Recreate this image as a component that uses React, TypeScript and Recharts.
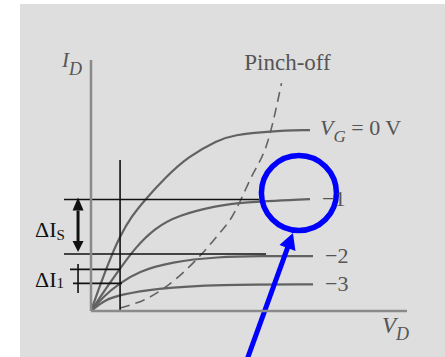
import { LineChart, Line, XAxis, YAxis, ReferenceLine, ReferenceDot, Label } from "recharts";

// drain characteristics, [V_D (V), I_D (mA)]
const vg0Curve = [[0, 0], [0.65, 1.17], [1.39, 2.35], [1.82, 2.96], [2.55, 3.76], [3.4, 4.42], [4.66, 5.29], [6.14, 6.15], [8.04, 6.81], [8.99, 7.01], [11.33, 7.17], [13.86, 7.21]];
const vgMinus1Curve = [[0, 0], [1.0, 0.95], [1.82, 1.67], [2.77, 2.5], [4.03, 3.3], [5.51, 3.82], [8.04, 4.2], [9.43, 4.33], [13.86, 4.46]];
const vgMinus2Curve = [[0, 0], [0.87, 0.64], [1.82, 1.1], [2.97, 1.57], [5.08, 1.96], [8.04, 2.16], [10.7, 2.19], [14.05, 2.19]];
const vgMinus3Curve = [[0, 0], [0.87, 0.44], [1.82, 0.64], [4.03, 0.9], [8.04, 1.06], [14.05, 1.06]];
const pinchOffCurve = [[1.84, 0.12], [3.61, 0.52], [5.51, 1.35], [6.77, 2.11], [8.04, 3.03], [8.8, 3.63], [10.06, 5.22], [11.27, 6.93], [12.06, 9.08]];

const curveLabels = ["0", "\u22121", "\u22122", "\u22123"];

// annotation levels (mA) and positions (V)
const deltaIsLevels = [4.44, 2.27];
const deltaIsEnds = [10.63, 11.08];
const deltaI1Levels = [1.66, 1.1];
const deltaI1Starts = [-1.33, -1.14];
const deltaI1Ends = [1.84, 1.96];
const deltaI1Tick = [1.87, 0.72];
const measureVd = 1.84;
const measureTop = 6.02;
const bracketVd = -0.82;
const levelLineStart = -1.71;
const circleCenter = { vd: 13.16, id: 4.7 };
const pointerTail = { vd: 9.84, id: -2.0 };
const pointerTip = { vd: 12.78, id: 3.11 };

const toPoints = (pairs: number[][]) => pairs.map(([vd, id]) => ({ vd, id }));

const FONT = "'Liberation Serif', 'Times New Roman', serif";
const CURVE = "#626262";
const INK = "#111";
const BLUE = "#0000ff";
const TEXT = "#555";

const serif = { fontFamily: FONT };

const endLabel = (text: string, last: number) => (p: any) => {
  if (p.index !== last) return null;
  if (text === "0") {
    return (
      <text x={p.x + 10} y={p.y + 5} fill={TEXT} fontSize={22} style={serif}>
        <tspan fontStyle="italic">V</tspan>
        <tspan fontStyle="italic" fontSize={17} dy={7}>G</tspan>
        <tspan dy={-7}> = 0 V</tspan>
      </text>
    );
  }
  return (
    <text x={p.x + 12} y={p.y + 7} fill={TEXT} fontSize={22} style={serif}>
      {text}
    </text>
  );
};

const pinchLabel = (last: number) => (p: any) =>
  p.index === last ? (
    <text x={p.x + 6} y={p.y - 13} textAnchor="middle" fill={TEXT} fontSize={23} style={serif}>
      Pinch-off
    </text>
  ) : null;

const IdLabel = ({ viewBox }: any) => (
  <text x={viewBox.x + viewBox.width - 29} y={viewBox.y + 7} fill={TEXT} fontSize={21} fontStyle="italic" style={serif}>
    I<tspan fontSize={18} dy={8}>D</tspan>
  </text>
);

const VdLabel = ({ viewBox }: any) => (
  <text x={viewBox.x + viewBox.width - 25} y={viewBox.y + 22} fill={TEXT} fontSize={23} fontStyle="italic" style={serif}>
    V<tspan fontSize={18} dy={7}>D</tspan>
  </text>
);

const DoubleArrow = ({ x1, y1, y2 }: any) => {
  const top = Math.min(y1, y2);
  const bot = Math.max(y1, y2);
  const h = 11;
  const w = 5.5;
  return (
    <g>
      <line x1={x1} y1={top + h} x2={x1} y2={bot - h} stroke={INK} strokeWidth={3} />
      <polygon points={`${x1},${top - 2} ${x1 - w},${top + h} ${x1 + w},${top + h}`} fill={INK} />
      <polygon points={`${x1},${bot - 2} ${x1 - w},${bot - h - 2} ${x1 + w},${bot - h - 2}`} fill={INK} />
      <text x={x1 - 43} y={(top + bot) / 2 + 10} fill={INK} fontSize={22} style={serif}>
        ΔI<tspan fontSize={15} dy={3}>S</tspan>
      </text>
    </g>
  );
};

const TickMark = ({ x1, y1, y2 }: any) => {
  const bot = Math.max(y1, y2);
  return (
    <g>
      <line x1={x1} y1={y1} x2={x1} y2={y2} stroke={INK} strokeWidth={1.6} />
      <text x={x1 - 43} y={bot - 6} fill={INK} fontSize={22} style={serif}>
        ΔI<tspan fontSize={15} dy={1}>1</tspan>
      </text>
    </g>
  );
};

const Pointer = ({ x1, y1, x2, y2 }: any) => {
  const len = Math.hypot(x2 - x1, y2 - y1);
  const ux = (x2 - x1) / len;
  const uy = (y2 - y1) / len;
  const hl = 16;
  const hw = 8.5;
  const bx = x2 - ux * hl;
  const by = y2 - uy * hl;
  return (
    <g>
      <line x1={x1} y1={y1} x2={bx + ux * 2} y2={by + uy * 2} stroke={BLUE} strokeWidth={5} />
      <polygon
        points={`${x2},${y2} ${bx - uy * hw},${by + ux * hw} ${bx + uy * hw},${by - ux * hw}`}
        fill={BLUE}
      />
    </g>
  );
};

const curves = [vg0Curve, vgMinus1Curve, vgMinus2Curve, vgMinus3Curve];

export default function App() {
  return (
    <div style={{ position: "absolute", left: 0, top: 0, width: 445, height: 357, background: "#fff" }}>
      <div style={{ position: "absolute", left: 20, top: 4, width: 425, height: 353, background: "#dedede" }}>
        <LineChart width={425} height={353} margin={{ top: 56, right: 38, bottom: 45, left: 70 }}>
          <XAxis
            type="number"
            dataKey="vd"
            domain={[0, 20]}
            allowDataOverflow
            tick={false}
            tickLine={false}
            height={1}
            axisLine={{ stroke: "#8a8a8a", strokeWidth: 2.5 }}
          >
            <Label content={VdLabel} />
          </XAxis>
          <YAxis
            type="number"
            domain={[0, 10]}
            allowDataOverflow
            tick={false}
            tickLine={false}
            width={1}
            axisLine={{ stroke: "#8a8a8a", strokeWidth: 2.5 }}
          >
            <Label content={IdLabel} />
          </YAxis>

          {curves.map((c, i) => (
            <Line
              key={curveLabels[i]}
              data={toPoints(c)}
              dataKey="id"
              type="basis"
              stroke={CURVE}
              strokeWidth={2.2}
              dot={false}
              activeDot={false}
              isAnimationActive={false}
              label={endLabel(curveLabels[i], c.length - 1)}
            />
          ))}
          <Line
            data={toPoints(pinchOffCurve)}
            dataKey="id"
            type="monotone"
            stroke={CURVE}
            strokeWidth={1.6}
            strokeDasharray="10 6"
            dot={false}
            activeDot={false}
            isAnimationActive={false}
            label={pinchLabel(pinchOffCurve.length - 1)}
          />

          <ReferenceLine
            segment={[{ x: measureVd, y: 0 }, { x: measureVd, y: measureTop }]}
            stroke={INK}
            strokeWidth={1.6}
            ifOverflow="visible"
          />
          {deltaIsLevels.map((lvl, i) => (
            <ReferenceLine
              key={`is-${i}`}
              segment={[{ x: levelLineStart, y: lvl }, { x: deltaIsEnds[i], y: lvl }]}
              stroke={INK}
              strokeWidth={1.6}
              ifOverflow="visible"
            />
          ))}
          {deltaI1Levels.map((lvl, i) => (
            <ReferenceLine
              key={`i1-${i}`}
              segment={[{ x: deltaI1Starts[i], y: lvl }, { x: deltaI1Ends[i], y: lvl }]}
              stroke={INK}
              strokeWidth={1.6}
              ifOverflow="visible"
            />
          ))}
          <ReferenceLine
            segment={[{ x: bracketVd, y: deltaIsLevels[0] }, { x: bracketVd, y: deltaIsLevels[1] }]}
            ifOverflow="visible"
            shape={DoubleArrow}
          />
          <ReferenceLine
            segment={[{ x: bracketVd, y: deltaI1Tick[0] }, { x: bracketVd, y: deltaI1Tick[1] }]}
            ifOverflow="visible"
            shape={TickMark}
          />

          <ReferenceDot
            x={circleCenter.vd}
            y={circleCenter.id}
            r={37.5}
            fill="none"
            stroke={BLUE}
            strokeWidth={5.5}
            ifOverflow="visible"
          />
          <ReferenceLine
            segment={[{ x: pointerTail.vd, y: pointerTail.id }, { x: pointerTip.vd, y: pointerTip.id }]}
            ifOverflow="visible"
            shape={Pointer}
          />
        </LineChart>
      </div>
    </div>
  );
}
